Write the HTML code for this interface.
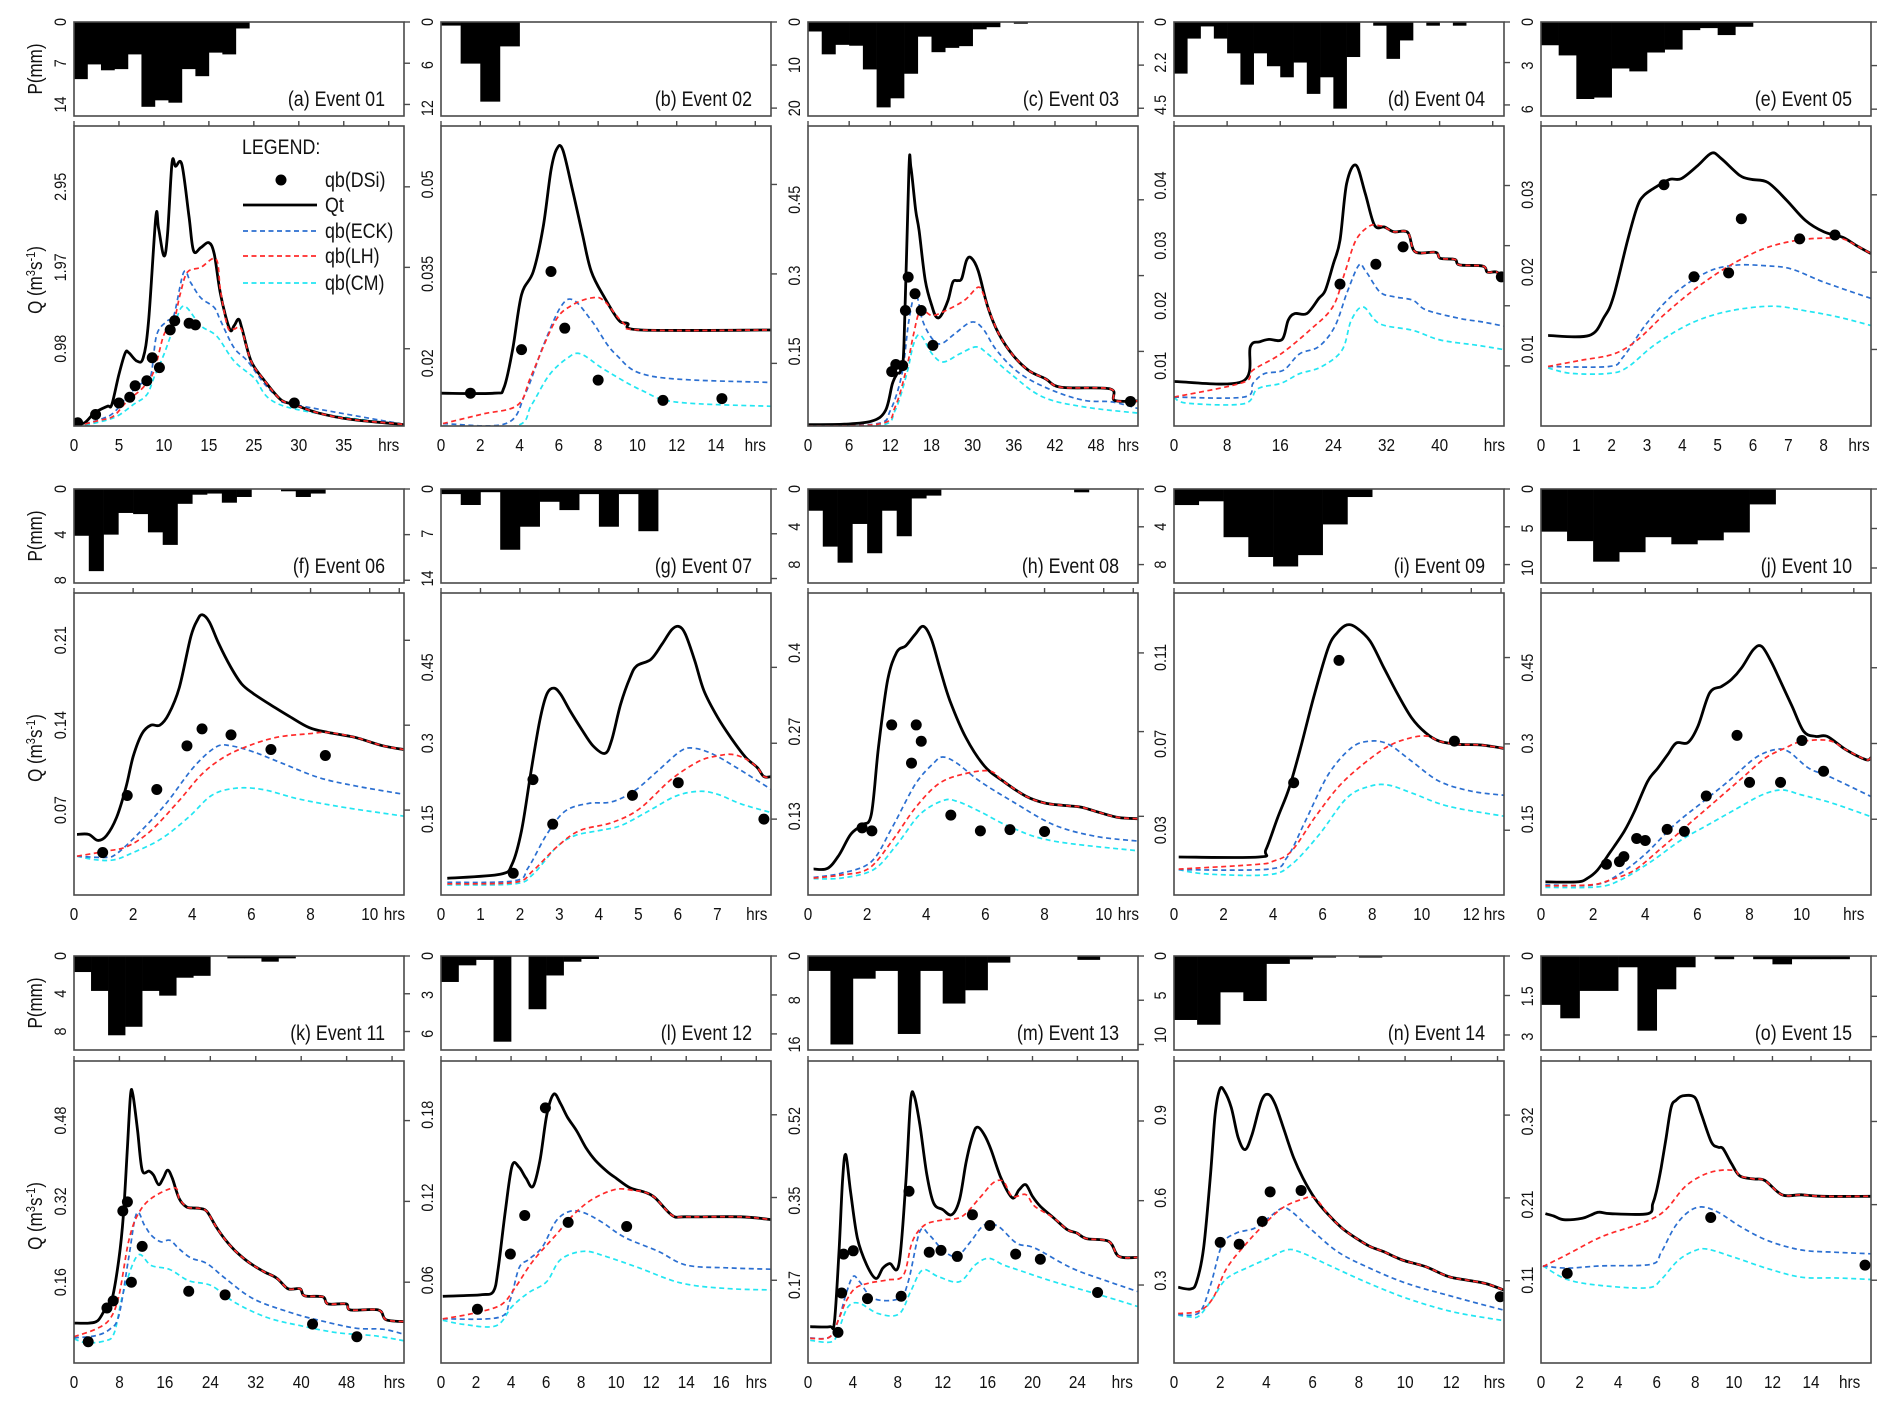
<!DOCTYPE html>
<html><head><meta charset="utf-8">
<style>
html,body{margin:0;padding:0;background:#fff;}
svg{display:block;}
text{font-family:"Liberation Sans Narrow","Liberation Sans",Arial,sans-serif;fill:#111;}
</style></head>
<body>
<svg id="fig" width="1892" height="1406" viewBox="0 0 1892 1406" xmlns="http://www.w3.org/2000/svg">
<rect x="0" y="0" width="1892" height="1406" fill="#fff"/>
</svg>
<script>
// ---------- DATA ----------
const rainA=[9.7,7.2,8.2,8.0,5.5,14.4,13.3,13.7,8.0,9.2,5.2,5.5,1.1];
const qtA=[[0.3,0.07],[1.2,0.08],[2.3,0.20],[3.7,0.28],[4.2,0.30],[5.0,0.67],[5.7,0.93],[6.1,0.93],[7.0,0.83],[7.7,0.87],[8.3,1.32],[9.1,2.58],[9.4,2.45],[10.0,2.11],[10.4,2.37],[10.9,3.24],[11.3,3.20],[12.0,3.22],[12.8,2.58],[13.3,2.17],[14.1,2.21],[15.0,2.27],[15.6,2.13],[16.3,1.64],[17.3,1.22],[17.8,1.26],[18.3,1.34],[18.7,1.22],[19.7,0.83],[21.2,0.59],[23.0,0.36],[24.5,0.30],[27.1,0.20],[30.8,0.12],[36.4,0.06],[36.7,0.05]];
const eckA=[[0.3,0.04],[2.9,0.12],[4.4,0.2],[5.9,0.4],[7.4,0.55],[8.5,0.63],[9.2,1.15],[10.4,1.32],[11.1,1.38],[12.2,1.91],[13,1.78],[14.1,1.6],[15.6,1.48],[16.3,1.32],[17.8,0.99],[19.3,0.83],[21.2,0.55],[23,0.36],[24.5,0.3],[36.7,0.06]];
const lhA=[[0.3,0.04],[2.9,0.11],[4.4,0.16],[5.9,0.34],[7.7,0.51],[8.9,0.71],[10,1.15],[11.1,1.32],[11.8,1.64],[12.6,1.91],[14.1,1.97],[15.8,2.07],[16.3,1.68],[17.1,1.24],[17.8,1.22],[18.6,1.22],[19.7,0.83],[21.2,0.59],[23,0.36],[24.5,0.30],[27.1,0.20],[30.8,0.12],[36.7,0.06]];
const cmA=[[0.3,0.03],[2.9,0.09],[4.8,0.16],[6.6,0.30],[8.1,0.42],[8.9,0.63],[10,0.91],[11.1,1.24],[12.2,1.5],[14.1,1.26],[15.9,1.13],[17.8,0.83],[20,0.63],[23.4,0.28],[36.7,0.05]];
const dsiA=[[0.4,0.08],[2.4,0.18],[5.0,0.32],[6.2,0.39],[6.8,0.53],[8.1,0.59],[8.7,0.87],[9.5,0.75],[10.7,1.21],[11.2,1.32],[12.8,1.29],[13.5,1.27],[24.5,0.32]];
const xlabA=['0','5','10','15','25','30','35','hrs'];

const rainB=[0.5,5.8,11.1,3.4];
const qtB=[[0,0.015],[2.7,0.015],[3.2,0.0159],[3.65,0.0224],[4.1,0.0315],[4.7,0.0354],[5.2,0.0428],[5.6,0.0524],[5.9,0.056],[6.2,0.0558],[6.7,0.049],[7.2,0.0417],[7.65,0.0354],[8.35,0.0309],[9.06,0.0272],[9.5,0.0267],[10.2,0.0256],[16.8,0.0256]];
const eckB=[[0.1,0.0099],[3.3,0.0099],[4.3,0.015],[5.2,0.0229],[6.1,0.0295],[6.75,0.0306],[7.7,0.027],[8.9,0.0215],[10.8,0.0178],[16.8,0.0168]];
const lhB=[[0.1,0.0099],[2.1,0.0115],[3.9,0.013],[4.6,0.018],[5.8,0.027],[6.7,0.0298],[7.7,0.031],[8.3,0.0305],[9.3,0.0267],[10.2,0.0256],[16.8,0.0256]];
const cmB=[[0.1,0.0095],[3.8,0.0095],[4.6,0.013],[5.5,0.018],[6.4,0.0208],[7.1,0.0216],[8.3,0.019],[10.2,0.0155],[12.0,0.0135],[16.8,0.0128]];
const dsiB=[[1.5,0.015],[4.1,0.0223],[5.6,0.0354],[6.3,0.0259],[8.0,0.0172],[11.3,0.0138],[14.3,0.0141]];
const xlabB=['0','2','4','6','8','10','12','14','hrs'];

const rainC=[2.2,7.5,5.3,5.5,11,19.8,17.7,12,3.4,7,6,5.6,1.7,1.2,0,0.4];
const qtC=[[0,0.005],[5.3,0.006],[9.3,0.012],[11.3,0.033],[12.3,0.086],[13,0.106],[13.5,0.112],[14,0.165],[14.7,0.508],[15.0,0.514],[15.7,0.429],[16.2,0.389],[17.1,0.29],[18.1,0.238],[18.7,0.218],[19.4,0.221],[20.4,0.251],[21.1,0.287],[21.8,0.29],[22.4,0.294],[23.1,0.33],[23.8,0.335],[24.8,0.31],[26.2,0.238],[27.8,0.185],[29.9,0.142],[32.2,0.112],[34.6,0.096],[36.9,0.079],[44,0.076],[44.7,0.053],[48.1,0.052]];
const eckC=[[0,0.002],[10,0.007],[12,0.033],[13.7,0.106],[14.7,0.211],[15.7,0.264],[16.7,0.211],[18.1,0.175],[19.4,0.165],[21.4,0.185],[23.8,0.208],[25.5,0.195],[27.5,0.152],[30.9,0.106],[35.6,0.073],[40.3,0.053],[44.3,0.05],[48.1,0.037]];
const lhC=[[0,0.002],[10.6,0.007],[12.7,0.04],[14.4,0.119],[15.4,0.185],[16.4,0.231],[18.1,0.221],[20.1,0.231],[22.8,0.251],[24.8,0.277],[25.6,0.262],[26.2,0.238],[27.8,0.185],[29.9,0.142],[32.2,0.112],[34.6,0.096],[36.9,0.079],[44,0.076],[44.7,0.053],[48.1,0.052]];
const cmC=[[0,0.002],[10.6,0.004],[12.7,0.033],[14.4,0.106],[15.4,0.165],[16.4,0.182],[18.1,0.145],[19.7,0.129],[22.1,0.145],[24.5,0.159],[26.2,0.145],[29.5,0.106],[34.2,0.06],[40.3,0.04],[48.1,0.028]];
const dsiC=[[12.2,0.11],[12.8,0.124],[13.8,0.122],[14.2,0.231],[14.6,0.297],[15.6,0.264],[16.5,0.231],[18.2,0.162],[47,0.051]];
const xlabC=['0','6','12','18','30','36','42','48','hrs'];

const rainD=[2.8,0.9,0.24,0.9,1.7,3.4,1.7,2.4,3.0,2.2,3.9,3.0,4.7,1.9,0,0.2,2.0,1.0,0,0.2,0,0.2];
const qtD=[[0,0.0074],[10.3,0.0074],[11.5,0.0132],[12.9,0.014],[14.3,0.0144],[16.3,0.0144],[17.2,0.0176],[18.2,0.0187],[20,0.0187],[21.8,0.0212],[22.8,0.0226],[24,0.027],[25,0.0309],[26,0.0403],[27.4,0.0434],[28.8,0.0387],[30.2,0.0334],[31.7,0.0331],[33.1,0.0323],[35.2,0.0322],[36.3,0.029],[39.4,0.0289],[40.1,0.0279],[42.3,0.0277],[43,0.0268],[46.5,0.0266],[47.2,0.0256],[48.6,0.0256],[49.7,0.0245]];
const eckD=[[0,0.0048],[10.5,0.0048],[11.9,0.0071],[13.6,0.0087],[16.5,0.0093],[18.9,0.012],[21.8,0.0132],[24.2,0.0165],[26,0.022],[27.8,0.0267],[28.8,0.0259],[31,0.0223],[33.1,0.0215],[36,0.0209],[38,0.0193],[43,0.0179],[46.5,0.0173],[49.7,0.0166]];
const lhD=[[0,0.0048],[10.3,0.0072],[11.9,0.0093],[16.1,0.012],[20.4,0.0159],[23.9,0.0198],[25.7,0.0254],[27.4,0.0309],[29.5,0.0333],[31.0,0.0333],[31.7,0.0331],[33.1,0.0323],[35.2,0.0322],[36.3,0.029],[39.4,0.0289],[40.1,0.0279],[42.3,0.0277],[43,0.0268],[46.5,0.0266],[47.2,0.0256],[48.6,0.0256],[49.7,0.0245]];
const cmD=[[0,0.0048],[2,0.0038],[10.5,0.0037],[12.6,0.0062],[16.1,0.0071],[18.9,0.0087],[22.1,0.0098],[25.3,0.0126],[26.7,0.0176],[28.5,0.0198],[31,0.017],[36,0.0159],[40.1,0.0143],[45.8,0.0134],[49.7,0.0127]];
const dsiD=[[25,0.0236],[30.4,0.0269],[34.5,0.0298],[49.3,0.0248]];
const xlabD=['0','8','16','24','32','40','hrs'];

const rainE=[1.6,2.3,5.3,5.2,3.2,3.4,2.1,1.9,0.56,0.42,0.9,0.33];
const qtE=[[0.2,0.0118],[1.36,0.0118],[1.79,0.0142],[2.05,0.0168],[2.45,0.0241],[2.72,0.0284],[2.91,0.0299],[3.25,0.031],[3.64,0.032],[3.97,0.0321],[4.44,0.0338],[4.83,0.0354],[5.1,0.0347],[5.63,0.0325],[5.96,0.032],[6.42,0.0316],[6.95,0.0293],[7.48,0.0267],[8.01,0.0252],[8.54,0.0245],[8.94,0.0234],[9.34,0.0224]];
const eckE=[[0.2,0.0078],[1.92,0.0078],[2.32,0.009],[2.98,0.0133],[3.77,0.0172],[4.7,0.02],[5.5,0.0209],[6.42,0.0208],[7.09,0.0204],[8.01,0.0187],[9.34,0.0166]];
const lhE=[[0.2,0.0078],[1.13,0.0086],[2.05,0.0094],[2.72,0.0112],[3.51,0.0146],[4.44,0.0181],[5.36,0.0209],[6.29,0.023],[7.22,0.0241],[8.01,0.0244],[8.54,0.0243],[8.94,0.0234],[9.34,0.0224]];
const cmE=[[0.2,0.0076],[0.86,0.0069],[1.92,0.0069],[2.45,0.0077],[3.25,0.0107],[4.3,0.0135],[5.36,0.015],[6.56,0.0156],[7.48,0.015],[8.41,0.0142],[9.34,0.0131]];
const dsiE=[[3.48,0.0313],[4.33,0.0194],[5.31,0.0199],[5.67,0.0269],[7.32,0.0243],[8.32,0.0248]];
const xlabE=['0','1','2','3','4','5','6','7','8','hrs'];

const rainF=[4.1,7.2,4.0,2.1,2.2,3.8,4.9,1.3,0.5,0.4,1.2,0.7,0,0,0.2,0.7,0.4];
const qtF=[[0.1,0.05],[0.5,0.05],[0.8,0.045],[1.1,0.049],[1.44,0.064],[1.76,0.089],[2.0,0.114],[2.3,0.133],[2.6,0.14],[2.9,0.14],[3.2,0.149],[3.56,0.171],[3.95,0.213],[4.18,0.227],[4.34,0.231],[4.58,0.225],[4.9,0.207],[5.3,0.188],[5.67,0.174],[6.07,0.166],[6.7,0.156],[7.3,0.147],[7.95,0.138],[8.6,0.134],[9.5,0.13],[10.45,0.123],[11.16,0.12]];
const eckF=[[0.1,0.032],[1.05,0.031],[1.44,0.034],[2.15,0.05],[3.1,0.075],[4.03,0.105],[4.8,0.122],[5.3,0.123],[6.07,0.118],[7.0,0.109],[8.26,0.097],[9.5,0.09],[11.16,0.083]];
const lhF=[[0.1,0.032],[1.05,0.036],[1.8,0.04],[2.6,0.053],[3.56,0.078],[4.34,0.1],[5.1,0.114],[5.9,0.123],[6.85,0.13],[7.95,0.133],[8.6,0.134],[9.5,0.13],[10.45,0.123],[11.16,0.12]];
const cmF=[[0.1,0.032],[0.74,0.029],[1.36,0.029],[2.0,0.035],[2.93,0.046],[3.87,0.064],[4.65,0.082],[5.44,0.088],[6.38,0.087],[7.63,0.079],[9.2,0.072],[11.16,0.065]];
const dsiF=[[0.97,0.035],[1.8,0.082],[2.8,0.087],[3.82,0.123],[4.33,0.137],[5.31,0.132],[6.66,0.12],[8.5,0.115]];
const xlabF=['0','2','4','6','8','10','hrs'];

const rainG=[0.8,2.5,0.5,9.5,5.9,2.0,3.3,0.8,5.9,0.8,6.6];
const qtG=[[0.16,0.033],[1.5,0.041],[1.8,0.061],[2.04,0.127],[2.27,0.239],[2.5,0.344],[2.68,0.397],[2.86,0.409],[3.03,0.397],[3.27,0.364],[3.56,0.328],[3.85,0.295],[4.15,0.28],[4.32,0.305],[4.55,0.377],[4.79,0.43],[4.96,0.453],[5.32,0.466],[5.6,0.496],[5.84,0.524],[6.02,0.531],[6.19,0.516],[6.43,0.463],[6.66,0.404],[7.01,0.351],[7.37,0.308],[7.72,0.272],[8.01,0.252],[8.18,0.234],[8.36,0.234]];
const eckG=[[0.16,0.025],[1.86,0.028],[2.21,0.054],[2.68,0.12],[3.15,0.166],[3.74,0.181],[4.32,0.184],[4.9,0.206],[5.5,0.246],[6.08,0.285],[6.43,0.29],[6.9,0.278],[7.48,0.252],[8.36,0.209]];
const lhG=[[0.16,0.022],[1.86,0.025],[2.33,0.048],[2.92,0.094],[3.5,0.127],[4.32,0.143],[5.02,0.17],[5.84,0.229],[6.55,0.265],[7.01,0.275],[7.37,0.278],[7.72,0.269],[8.01,0.252],[8.18,0.234],[8.36,0.234]];
const cmG=[[0.16,0.02],[1.86,0.022],[2.33,0.041],[2.92,0.094],[3.38,0.117],[3.97,0.127],[4.55,0.137],[5.26,0.166],[5.96,0.196],[6.55,0.205],[7.01,0.199],[7.6,0.18],[8.36,0.163]];
const dsiG=[[1.83,0.043],[2.33,0.228],[2.83,0.14],[4.85,0.197],[6.01,0.222],[8.18,0.15]];
const xlabG=['0','1','2','3','4','5','6','7','hrs'];

const rainH=[2.3,6.1,7.8,3.7,6.8,2.3,5.0,1.0,0.7,0,0,0,0,0,0,0,0,0,0.35];
const qtH=[[0.19,0.043],[0.66,0.044],[1.05,0.066],[1.44,0.1],[1.83,0.116],[2.14,0.133],[2.38,0.243],[2.69,0.354],[3.0,0.401],[3.31,0.412],[3.63,0.431],[3.9,0.444],[4.17,0.423],[4.48,0.371],[4.8,0.321],[5.34,0.26],[5.97,0.213],[6.6,0.188],[7.38,0.163],[8.0,0.152],[8.63,0.148],[9.25,0.145],[9.88,0.136],[10.5,0.128],[11.16,0.126]];
const eckH=[[0.19,0.029],[1.13,0.036],[2.14,0.055],[2.84,0.111],[3.63,0.183],[4.25,0.218],[4.56,0.228],[5.03,0.218],[5.81,0.188],[6.9,0.155],[8.31,0.116],[9.72,0.097],[11.16,0.089]];
const lhH=[[0.19,0.028],[1.13,0.033],[2.06,0.044],[2.84,0.089],[3.63,0.144],[4.4,0.183],[5.19,0.199],[6.13,0.205],[6.6,0.188],[7.38,0.163],[8.0,0.152],[8.63,0.148],[9.25,0.145],[9.88,0.136],[10.5,0.128],[11.16,0.126]];
const cmH=[[0.19,0.027],[1.13,0.028],[2.22,0.042],[3.0,0.083],[3.78,0.133],[4.56,0.156],[5.03,0.155],[5.81,0.138],[6.9,0.111],[8.31,0.089],[11.16,0.073]];
const dsiH=[[1.83,0.111],[2.16,0.106],[2.83,0.281],[3.66,0.281],[3.5,0.218],[3.83,0.254],[4.83,0.132],[5.83,0.106],[6.83,0.108],[8.0,0.105]];
const xlabH=['0','2','4','6','8','10','hrs'];

const rainI=[1.7,1.3,5.1,7.2,8.2,7.0,3.75,0.85];
const qtI=[[0.19,0.0176],[3.43,0.0176],[3.71,0.021],[4.18,0.0357],[4.65,0.0496],[5.11,0.0682],[5.67,0.093],[6.23,0.1146],[6.6,0.1216],[6.98,0.1251],[7.35,0.1239],[7.91,0.1177],[8.47,0.1053],[9.03,0.093],[9.59,0.0821],[10.15,0.0752],[10.7,0.0713],[11.46,0.0698],[12.39,0.0695],[13.32,0.0679]];
const eckI=[[0.19,0.0117],[3.81,0.012],[4.55,0.0172],[5.3,0.0342],[6.23,0.0558],[7.16,0.0682],[7.91,0.0713],[8.66,0.0698],[9.59,0.062],[10.7,0.0527],[12.0,0.0481],[13.32,0.0462]];
const lhI=[[0.19,0.012],[3.25,0.0141],[3.99,0.0156],[4.74,0.0203],[5.67,0.0357],[6.6,0.0496],[7.54,0.0597],[8.66,0.069],[9.59,0.0729],[10.24,0.0736],[10.7,0.0713],[11.46,0.0698],[12.39,0.0695],[13.32,0.0679]];
const cmI=[[0.19,0.0117],[1.38,0.0097],[3.81,0.0094],[4.74,0.0141],[5.86,0.028],[6.98,0.045],[7.91,0.0504],[8.66,0.0509],[9.59,0.0473],[11.08,0.0411],[13.32,0.0365]];
const dsiI=[[4.83,0.052],[6.66,0.1087],[11.32,0.0713]];
const xlabI=['0','2','4','6','8','10','12','hrs'];

const rainJ=[5.4,6.6,9.2,8.0,6.1,7.0,6.5,5.5,1.95];
const qtJ=[[0.17,0.026],[1.39,0.026],[1.78,0.033],[2.16,0.049],[2.67,0.086],[3.19,0.126],[3.58,0.165],[4.09,0.225],[4.48,0.251],[4.86,0.278],[5.19,0.301],[5.64,0.302],[6.02,0.334],[6.47,0.4],[6.93,0.413],[7.31,0.427],[7.7,0.45],[8.15,0.486],[8.47,0.492],[8.85,0.46],[9.24,0.417],[9.63,0.374],[10.08,0.324],[10.53,0.314],[10.98,0.314],[11.69,0.288],[12.46,0.268],[12.66,0.272]];
const eckJ=[[0.17,0.02],[2.03,0.02],[2.93,0.039],[3.96,0.079],[5.12,0.139],[6.15,0.182],[7.18,0.225],[8.21,0.271],[8.98,0.288],[9.5,0.284],[10.27,0.251],[11.04,0.235],[12.66,0.195]];
const lhJ=[[0.17,0.018],[1.9,0.02],[2.67,0.03],[3.58,0.049],[4.6,0.092],[5.64,0.139],[6.67,0.185],[7.7,0.231],[8.6,0.271],[9.37,0.291],[10.0,0.304],[11.04,0.306],[11.69,0.288],[12.46,0.268],[12.66,0.272]];
const cmJ=[[0.17,0.015],[2.16,0.016],[3.06,0.03],[4.22,0.066],[5.38,0.109],[6.41,0.139],[7.44,0.169],[8.47,0.198],[9.24,0.208],[10.01,0.198],[11.17,0.182],[12.66,0.155]];
const dsiJ=[[2.51,0.061],[3.01,0.066],[3.18,0.076],[3.67,0.112],[4.0,0.108],[4.84,0.13],[5.5,0.126],[6.34,0.196],[7.52,0.316],[8.0,0.223],[9.19,0.223],[10.01,0.306],[10.84,0.245]];
const xlabJ=['0','2','4','6','8','10','hrs'];

const rainK=[1.7,3.7,8.4,7.5,3.7,4.2,2.3,2.1,0,0.25,0.25,0.6,0.25];
const qtK=[[0,0.079],[2.6,0.079],[4.2,0.084],[5.5,0.107],[6.7,0.127],[7.9,0.206],[8.7,0.293],[9.4,0.426],[9.96,0.532],[10.4,0.529],[11.2,0.46],[12,0.382],[13.2,0.38],[14,0.372],[14.9,0.353],[15.7,0.366],[16.5,0.382],[17.3,0.366],[18.5,0.326],[19.8,0.309],[21,0.307],[22.2,0.306],[23.4,0.3],[25,0.27],[26.7,0.243],[28.3,0.223],[30,0.206],[31.6,0.193],[33.6,0.18],[35.7,0.168],[37.7,0.147],[39.8,0.147],[40.6,0.133],[43.8,0.131],[44.7,0.117],[47.9,0.117],[48.7,0.105],[53.6,0.105],[54.9,0.086],[58.1,0.082]];
const eckK=[[0,0.05],[3.8,0.054],[6.3,0.067],[7.9,0.094],[9.6,0.206],[11,0.296],[12.4,0.273],[13.6,0.253],[15.3,0.24],[16.9,0.243],[18.5,0.226],[20.6,0.208],[23.4,0.197],[26.7,0.167],[31.6,0.127],[38.1,0.1],[43,0.085],[49.6,0.069],[54.4,0.067],[58.1,0.057]];
const lhK=[[0,0.052],[3.8,0.067],[6.3,0.087],[7.9,0.133],[9.6,0.24],[11.2,0.293],[13.6,0.326],[17.7,0.347],[18.5,0.326],[19.8,0.309],[21,0.307],[22.2,0.306],[23.4,0.3],[25,0.27],[26.7,0.243],[28.3,0.223],[30,0.206],[31.6,0.193],[33.6,0.18],[35.7,0.168],[37.7,0.147],[39.8,0.147],[40.6,0.133],[43.8,0.131],[44.7,0.117],[47.9,0.117],[48.7,0.105],[53.6,0.105],[54.9,0.086],[58.1,0.082]];
const cmK=[[0,0.048],[2.2,0.04],[5.5,0.044],[7.1,0.06],[8.7,0.14],[11.2,0.213],[13.6,0.193],[16.9,0.185],[20.2,0.163],[24.2,0.153],[28.3,0.12],[34,0.09],[39.8,0.074],[46.3,0.06],[52.8,0.054],[58.1,0.044]];
const dsiK=[[2.5,0.042],[5.8,0.109],[6.9,0.123],[8.6,0.301],[9.4,0.319],[10.1,0.16],[12,0.231],[20.2,0.142],[26.6,0.135],[42,0.077],[49.8,0.052]];
const xlabK=['0','8','16','24','32','40','48','hrs'];

const rainL=[2.0,0.72,0.3,6.6,0,4.1,1.5,0.44,0.23];
const qtL=[[0.1,0.0484],[1.3,0.0489],[2.35,0.0496],[3.0,0.052],[3.27,0.069],[3.67,0.11],[4.06,0.143],[4.46,0.142],[4.85,0.134],[5.25,0.128],[5.65,0.147],[6.04,0.18],[6.44,0.195],[6.83,0.188],[7.23,0.178],[7.76,0.168],[8.28,0.156],[8.81,0.147],[9.47,0.139],[10,0.134],[10.8,0.127],[11.6,0.124],[12.2,0.12],[13.2,0.107],[14,0.106],[17.1,0.106],[18.84,0.104]];
const eckL=[[0.1,0.032],[3.27,0.033],[3.93,0.045],[4.46,0.069],[4.99,0.075],[5.78,0.084],[6.57,0.103],[7.36,0.11],[8.15,0.109],[9.2,0.102],[10.5,0.091],[12.4,0.081],[14,0.071],[16.3,0.069],[18.84,0.068]];
const lhL=[[0.1,0.032],[1.82,0.036],[3.4,0.042],[4.2,0.054],[5.25,0.074],[6.57,0.093],[7.6,0.108],[8.68,0.119],[10,0.126],[11.05,0.125],[11.6,0.124],[12.2,0.12],[13.2,0.107],[14,0.106],[17.1,0.106],[18.84,0.104]];
const cmL=[[0.1,0.031],[1.3,0.028],[3.14,0.027],[4.06,0.041],[5.0,0.051],[6.04,0.059],[6.83,0.075],[8.15,0.081],[9.47,0.077],[11.3,0.069],[13.7,0.058],[16.3,0.054],[18.84,0.053]];
const dsiL=[[2.08,0.039],[3.96,0.079],[4.78,0.107],[5.96,0.185],[7.26,0.102],[10.6,0.099]];
const xlabL=['0','2','4','6','8','10','12','14','16','hrs'];

const rainM=[2.7,16,4.1,2.7,14.1,2.7,8.6,6.2,1.2,0,0,0,0.7];
const qtM=[[0.2,0.081],[1.93,0.081],[2.35,0.091],[2.76,0.241],[3.09,0.398],[3.37,0.448],[3.79,0.37],[4.4,0.27],[5.23,0.213],[6.05,0.184],[6.67,0.206],[7.28,0.216],[8.1,0.214],[8.72,0.391],[9.14,0.563],[9.47,0.573],[9.96,0.513],[10.58,0.406],[11.19,0.345],[12.0,0.331],[12.8,0.32],[13.5,0.352],[14.1,0.434],[14.7,0.491],[15.1,0.507],[15.7,0.491],[16.3,0.459],[17.2,0.398],[18.2,0.356],[18.8,0.373],[19.4,0.384],[20.0,0.359],[20.7,0.338],[21.9,0.313],[23.1,0.288],[23.95,0.281],[24.8,0.269],[26.8,0.263],[27.7,0.231],[29.4,0.229]];
const eckM=[[0.2,0.057],[1.93,0.059],[2.76,0.099],[3.37,0.149],[4.0,0.188],[4.6,0.177],[5.84,0.141],[8.1,0.141],[8.93,0.177],[9.96,0.284],[10.8,0.277],[12,0.245],[13.25,0.231],[14.5,0.263],[15.7,0.298],[16.95,0.295],[18.6,0.259],[20.2,0.249],[23.5,0.206],[26.8,0.177],[29.4,0.156]];
const lhM=[[0.2,0.056],[1.93,0.059],[2.76,0.099],[3.37,0.134],[4.2,0.163],[5.43,0.174],[7.08,0.181],[8.5,0.191],[9.3,0.263],[10.4,0.298],[12,0.309],[13.7,0.316],[15.3,0.356],[16.5,0.388],[17.4,0.391],[18.2,0.359],[19.4,0.363],[20.2,0.338],[21.9,0.313],[23.1,0.288],[23.95,0.281],[24.8,0.269],[26.8,0.263],[27.7,0.231],[29.4,0.229]];
const cmM=[[0.2,0.052],[2.14,0.049],[2.76,0.077],[3.58,0.124],[4.6,0.131],[6.26,0.109],[8.1,0.108],[9.14,0.156],[10.2,0.202],[11.6,0.188],[13.5,0.177],[14.9,0.213],[16.1,0.227],[17.4,0.213],[19,0.2],[21.9,0.177],[26,0.149],[29.4,0.124]];
const dsiM=[[2.67,0.069],[3.0,0.153],[3.17,0.236],[4.03,0.243],[5.3,0.141],[8.3,0.146],[9.0,0.37],[10.8,0.24],[11.85,0.244],[13.3,0.231],[14.65,0.32],[16.2,0.297],[18.5,0.236],[20.7,0.225],[25.8,0.154]];
const xlabM=['0','4','8','12','16','20','24','hrs'];

const rainN=[8.1,8.7,4.6,5.7,1.0,0.43,0.2,0,0.2];
const qtN=[[0.18,0.276],[0.72,0.27],[0.98,0.296],[1.28,0.418],[1.58,0.684],[1.78,0.902],[1.98,0.993],[2.18,0.987],[2.48,0.927],[2.78,0.818],[3.08,0.775],[3.38,0.83],[3.78,0.951],[4.08,0.975],[4.38,0.939],[4.78,0.842],[5.18,0.745],[5.58,0.672],[6.08,0.6],[6.68,0.539],[7.28,0.49],[7.88,0.454],[8.48,0.424],[9.08,0.405],[9.88,0.375],[10.88,0.351],[11.88,0.315],[12.68,0.302],[13.48,0.29],[14.28,0.266]];
const eckN=[[0.18,0.178],[1.08,0.184],[1.58,0.284],[2.08,0.43],[2.68,0.472],[3.48,0.49],[4.08,0.527],[4.68,0.563],[5.08,0.551],[5.88,0.49],[7.08,0.405],[8.48,0.345],[10.08,0.29],[12.08,0.242],[14.28,0.193]];
const lhN=[[0.18,0.181],[1.08,0.19],[1.68,0.236],[2.28,0.345],[3.08,0.43],[3.88,0.502],[4.68,0.563],[5.48,0.593],[6.08,0.6],[6.68,0.539],[7.28,0.49],[7.88,0.454],[8.48,0.424],[9.08,0.405],[9.88,0.375],[10.88,0.351],[11.88,0.315],[12.68,0.302],[13.48,0.29],[14.28,0.266]];
const cmN=[[0.18,0.175],[0.68,0.169],[1.08,0.172],[1.68,0.236],[2.28,0.308],[3.28,0.351],[4.08,0.381],[4.88,0.412],[5.48,0.403],[6.68,0.357],[8.28,0.296],[10.08,0.236],[12.08,0.187],[14.28,0.155]];
const dsiN=[[2.0,0.439],[2.82,0.432],[3.82,0.515],[4.16,0.622],[5.5,0.627],[14.12,0.242]];
const xlabN=['0','2','4','6','8','10','12','hrs'];

const rainO=[1.82,2.32,1.3,1.3,0.42,2.78,1.24,0.42,0,0.12,0,0.12,0.31,0.12,0.12,0.12];
const qtO=[[0.23,0.198],[0.66,0.195],[1.18,0.19],[2.14,0.192],[2.57,0.196],[3.0,0.2],[3.62,0.198],[5.53,0.198],[5.79,0.211],[5.97,0.226],[6.23,0.259],[6.49,0.299],[6.75,0.339],[7.0,0.348],[7.36,0.354],[7.97,0.352],[8.31,0.33],[8.83,0.293],[9.18,0.286],[9.44,0.284],[9.88,0.264],[10.31,0.248],[11.0,0.244],[11.6,0.242],[12.5,0.223],[13.5,0.223],[14.6,0.221],[17.11,0.221]];
const eckO=[[0.1,0.129],[1.36,0.126],[3.1,0.129],[5.7,0.131],[6.23,0.147],[6.92,0.18],[7.62,0.2],[8.31,0.207],[9.18,0.2],[10.4,0.18],[11.8,0.162],[13.5,0.15],[15.3,0.147],[17.11,0.145]];
const lhO=[[0.1,0.128],[1.36,0.144],[3.1,0.167],[4.83,0.182],[5.9,0.193],[6.57,0.206],[7.44,0.233],[8.31,0.248],[9.18,0.255],[10.05,0.255],[10.31,0.248],[11.0,0.244],[11.6,0.242],[12.5,0.223],[13.5,0.223],[14.6,0.221],[17.11,0.221]];
const cmO=[[0.1,0.129],[1.36,0.111],[3.1,0.103],[5.53,0.1],[6.23,0.111],[7.1,0.136],[7.97,0.149],[8.66,0.151],[10.05,0.14],[11.8,0.125],[13.5,0.114],[15.3,0.113],[17.11,0.111]];
const dsiO=[[1.36,0.119],[8.8,0.193],[16.8,0.13]];
const xlabO=['0','2','4','6','8','10','12','14','hrs'];

// ---------- LAYOUT ----------
const NS='http://www.w3.org/2000/svg';
const svg=document.getElementById('fig');
const COLX=[74,441,808,1174,1541], PW=330;
const ROWY=[{pt:22,ph:94,qt:126,qh:300},{pt:489,ph:94,qt:593,qh:302},{pt:956,ph:94,qt:1061,qh:302}];
const SX=0.85;
function seq(a,b,s){const r=[];for(let v=a;v<=b+1e-9;v+=s)r.push(+v.toFixed(4));return r;}
const panels=[
 {k:'a',label:'(a) Event 01',xmax:36.7,xt:seq(0,35,5),xl:xlabA,ymin:0.04,ymax:3.69,yt:[0.98,1.97,2.95],pmax:15.96,pt:[0,7,14],bw:1.5,rain:rainA,qt:qtA,eck:eckA,lh:lhA,cm:cmA,dsi:dsiA},
 {k:'b',label:'(b) Event 02',xmax:16.8,xt:seq(0,16,2),xl:xlabB,ymin:0.0095,ymax:0.0598,yt:[0.02,0.035,0.05],pmax:13.1,pt:[0,6,12],bw:1,rain:rainB,qt:qtB,eck:eckB,lh:lhB,cm:cmB,dsi:dsiB},
 {k:'c',label:'(c) Event 03',xmax:48.1,xt:seq(0,48,6),xl:xlabC,ymin:0.0024,ymax:0.596,yt:[0.15,0.3,0.45],pmax:21.8,pt:[0,10,20],bw:2,rain:rainC,qt:qtC,eck:eckC,lh:lhC,cm:cmC,dsi:dsiC},
 {k:'d',label:'(d) Event 04',xmax:49.7,xt:seq(0,48,8),xl:xlabD,ymin:0,ymax:0.0499,yt:[0.01,0.02,0.03,0.04],pmax:5.1,pt:[0,2.2,4.5],bw:2,rain:rainD,qt:qtD,eck:eckD,lh:lhD,cm:cmD,dsi:dsiD},
 {k:'e',label:'(e) Event 05',xmax:9.34,xt:seq(0,9,1),xl:xlabE,ymin:0.0001,ymax:0.0389,yt:[0.01,0.02,0.03],pmax:6.47,pt:[0,3,6],bw:0.5,rain:rainE,qt:qtE,eck:eckE,lh:lhE,cm:cmE,dsi:dsiE},
 {k:'f',label:'(f)  Event 06',xmax:11.16,xt:[0,2,4,6,8,10,11.0],xl:xlabF,ymin:0,ymax:0.249,yt:[0.07,0.14,0.21],pmax:8.24,pt:[0,4,8],bw:0.5,rain:rainF,qt:qtF,eck:eckF,lh:lhF,cm:cmF,dsi:dsiF},
 {k:'g',label:'(g) Event 07',xmax:8.36,xt:seq(0,8,1),xl:xlabG,ymin:0,ymax:0.597,yt:[0.15,0.3,0.45],pmax:14.7,pt:[0,7,14],bw:0.5,rain:rainG,qt:qtG,eck:eckG,lh:lhG,cm:cmG,dsi:dsiG},
 {k:'h',label:'(h) Event 08',xmax:11.16,xt:[0,2,4,6,8,10,11.0],xl:xlabH,ymin:0,ymax:0.499,yt:[0.13,0.27,0.40],pmax:9.95,pt:[0,4,8],bw:0.5,rain:rainH,qt:qtH,eck:eckH,lh:lhH,cm:cmH,dsi:dsiH},
 {k:'i',label:'(i)  Event 09',xmax:13.32,xt:[0,2,4,6,8,10,12,13.2],xl:xlabI,ymin:0,ymax:0.1399,yt:[0.03,0.07,0.11],pmax:9.95,pt:[0,4,8],bw:1,rain:rainI,qt:qtI,eck:eckI,lh:lhI,cm:cmI,dsi:dsiI},
 {k:'j',label:'(j)  Event 10',xmax:12.66,xt:seq(0,12,2),xl:xlabJ,ymin:0,ymax:0.598,yt:[0.15,0.3,0.45],pmax:11.9,pt:[0,5,10],bw:1,rain:rainJ,qt:qtJ,eck:eckJ,lh:lhJ,cm:cmJ,dsi:dsiJ},
 {k:'k',label:'(k)  Event 11',xmax:58.1,xt:seq(0,56,8),xl:xlabK,ymin:0,ymax:0.598,yt:[0.16,0.32,0.48],pmax:9.96,pt:[0,4,8],bw:3,rain:rainK,qt:qtK,eck:eckK,lh:lhK,cm:cmK,dsi:dsiK},
 {k:'l',label:'(l)  Event 12',xmax:18.84,xt:seq(0,18,2),xl:xlabL,ymin:0,ymax:0.219,yt:[0.06,0.12,0.18],pmax:7.24,pt:[0,3,6],bw:1,rain:rainL,qt:qtL,eck:eckL,lh:lhL,cm:cmL,dsi:dsiL},
 {k:'m',label:'(m) Event 13',xmax:29.4,xt:seq(0,28,4),xl:xlabM,ymin:0.0036,ymax:0.648,yt:[0.17,0.35,0.52],pmax:17.0,pt:[0,8,16],bw:2,rain:rainM,qt:qtM,eck:eckM,lh:lhM,cm:cmM,dsi:dsiM},
 {k:'n',label:'(n)  Event 14',xmax:14.28,xt:seq(0,14,2),xl:xlabN,ymin:0.0018,ymax:1.096,yt:[0.3,0.6,0.9],pmax:11.9,pt:[0,5,10],bw:1,rain:rainN,qt:qtN,eck:eckN,lh:lhN,cm:cmN,dsi:dsiN},
 {k:'o',label:'(o) Event 15',xmax:17.11,xt:seq(0,16,2),xl:xlabO,ymin:0.0005,ymax:0.40,yt:[0.11,0.21,0.32],pmax:3.5,pt:[0,1.5,3],bw:1,rain:rainO,qt:qtO,eck:eckO,lh:lhO,cm:cmO,dsi:dsiO}
];

function el(tag,parent){const e=document.createElementNS(NS,tag);parent.appendChild(e);return e;}
function smooth(pts){
  if(!pts.length) return '';
  let d='M'+pts[0][0].toFixed(1)+','+pts[0][1].toFixed(1);
  for(let i=0;i<pts.length-1;i++){
    const p0=pts[Math.max(0,i-1)],p1=pts[i],p2=pts[i+1],p3=pts[Math.min(pts.length-1,i+2)];
    const c1x=p1[0]+(p2[0]-p0[0])/6,c1y=p1[1]+(p2[1]-p0[1])/6;
    const c2x=p2[0]-(p3[0]-p1[0])/6,c2y=p2[1]-(p3[1]-p1[1])/6;
    d+=' C'+c1x.toFixed(1)+','+c1y.toFixed(1)+' '+c2x.toFixed(1)+','+c2y.toFixed(1)+' '+p2[0].toFixed(1)+','+p2[1].toFixed(1);
  }
  return d;
}
const defs=el('defs',svg);
const BOX='#4a4a4a';

panels.forEach((p,idx)=>{
  const col=idx%5,row=Math.floor(idx/5);
  const L=COLX[col],R=L+PW,g0=ROWY[row];
  const xs=v=>L+v/p.xmax*PW;
  const ys=v=>g0.qt+g0.qh*(1-(v-p.ymin)/(p.ymax-p.ymin));
  const ps=v=>g0.pt+v/p.pmax*g0.ph;
  const g=el('g',svg);
  
  

  const pg=el('g',g);
  
  
  p.rain.forEach((v,i)=>{
    const x0=i*p.bw,x1=Math.min(p.xmax,(i+1)*p.bw);
    if(v<=0||x0>=p.xmax) return;
    const r=el('rect',pg);
    
    
    r.setAttribute('x',xs(x0));r.setAttribute('y',g0.pt);
    r.setAttribute('width',xs(x1)-xs(x0)+0.3);r.setAttribute('height',ps(v)-g0.pt);
    r.setAttribute('fill','#000');
  });
  const pb=el('rect',g);
  
  
  pb.setAttribute('x',L);pb.setAttribute('y',g0.pt);pb.setAttribute('width',PW);pb.setAttribute('height',g0.ph);
  pb.setAttribute('fill','none');pb.setAttribute('stroke',BOX);pb.setAttribute('stroke-width','1.6');
  p.pt.forEach(v=>{
    const t=el('text',g);
    
    
    t.setAttribute('transform','translate('+(L-8)+','+ps(v)+') rotate(-90) scale('+SX+',1)');
    t.setAttribute('text-anchor','middle');t.setAttribute('font-size','17');
    t.textContent=String(v);
    const tk=el('line',g);
    
    
    tk.setAttribute('x1',R);tk.setAttribute('x2',R+6);tk.setAttribute('y1',ps(v));tk.setAttribute('y2',ps(v));
    tk.setAttribute('stroke',BOX);tk.setAttribute('stroke-width','1.4');
  });
  const lab=el('text',g);
  
  
  lab.setAttribute('transform','translate('+(R-19)+','+(g0.pt+g0.ph-10)+') scale('+SX+',1)');
  lab.setAttribute('text-anchor','end');lab.setAttribute('font-size','21');
  lab.setAttribute('xml:space','preserve');
  lab.textContent=p.label;

  const cp=el('clipPath',defs);
  cp.setAttribute('id','clip'+p.k);
  const cr=el('rect',cp);
  cr.setAttribute('x',L);cr.setAttribute('y',g0.qt);cr.setAttribute('width',PW);cr.setAttribute('height',g0.qh);
  const qg=el('g',g);
  
  
  qg.setAttribute('clip-path','url(#clip'+p.k+')');
  const series=[['cm','#22e6f2',1.7,'5,3.5'],['eck','#2b6fd1',1.7,'5,3.5'],['qt','#000',2.8,null],['lh','#ff2a2a',1.7,'5,3.5']];
  series.forEach(s=>{
    const path=el('path',qg);
    
    
    path.setAttribute('d',smooth(p[s[0]].map(q=>[xs(q[0]),ys(q[1])])));
    path.setAttribute('fill','none');path.setAttribute('stroke',s[1]);path.setAttribute('stroke-width',s[2]);
    path.setAttribute('stroke-linejoin','round');
    if(s[3]) path.setAttribute('stroke-dasharray',s[3]);
  });
  p.dsi.forEach(q=>{
    const c=el('circle',qg);
    
    
    c.setAttribute('cx',xs(q[0]));c.setAttribute('cy',ys(q[1]));c.setAttribute('r','5.5');c.setAttribute('fill','#000');
  });
  const qb=el('rect',g);
  
  
  qb.setAttribute('x',L);qb.setAttribute('y',g0.qt);qb.setAttribute('width',PW);qb.setAttribute('height',g0.qh);
  qb.setAttribute('fill','none');qb.setAttribute('stroke',BOX);qb.setAttribute('stroke-width','1.6');
  p.yt.forEach(v=>{
    const t=el('text',g);
    
    
    t.setAttribute('transform','translate('+(L-8)+','+ys(v)+') rotate(-90) scale('+SX+',1)');
    t.setAttribute('text-anchor','middle');t.setAttribute('font-size','17');
    t.textContent=String(v);
    const tk=el('line',g);
    
    
    tk.setAttribute('x1',R);tk.setAttribute('x2',R+6);tk.setAttribute('y1',ys(v));tk.setAttribute('y2',ys(v));
    tk.setAttribute('stroke',BOX);tk.setAttribute('stroke-width','1.4');
  });
  p.xt.forEach((v,i)=>{
    const x=xs(v);
    if(x<=R-1){
      const tk=el('line',g);
      
      
      tk.setAttribute('x1',x);tk.setAttribute('x2',x);tk.setAttribute('y1',g0.qt);tk.setAttribute('y2',g0.qt-5);
      tk.setAttribute('stroke',BOX);tk.setAttribute('stroke-width','1.4');
    }
    const t=el('text',g);
    
    
    let ax='middle',tx=x;
    if(x>R-12){ax='end';tx=R+1;}
    t.setAttribute('transform','translate('+tx+','+(g0.qt+g0.qh+25)+') scale('+SX+',1)');
    t.setAttribute('text-anchor',ax);t.setAttribute('font-size','18');
    t.textContent=p.xl[i];
  });
  if(col===0){
    const pt=el('text',g);
    
    
    pt.setAttribute('transform','translate(42,'+(g0.pt+g0.ph/2)+') rotate(-90) scale('+SX+',1)');
    pt.setAttribute('text-anchor','middle');pt.setAttribute('font-size','20');
    pt.textContent='P(mm)';
    const qt=el('text',g);
    
    
    qt.setAttribute('transform','translate(42,'+(g0.qt+g0.qh/2+4)+') rotate(-90) scale('+SX+',1)');
    qt.setAttribute('text-anchor','middle');qt.setAttribute('font-size','20');
    qt.innerHTML='Q (m<tspan dy="-7" font-size="13">3</tspan><tspan dy="7">s</tspan><tspan dy="-7" font-size="13">-1</tspan><tspan dy="7">)</tspan>';
  }
});

const lg=el('g',svg);


const lt=el('text',lg);


lt.setAttribute('transform','translate(242,154) scale('+SX+',1)');lt.setAttribute('font-size','21');
lt.textContent='LEGEND:';
const legItems=[['qb(DSi)','dot','#000'],['Qt','solid','#000'],['qb(ECK)','dash','#2b6fd1'],['qb(LH)','dash','#ff2a2a'],['qb(CM)','dash','#22e6f2']];
const legY=[180,205,231,256,283];
legItems.forEach((it,i)=>{
  const y=legY[i];
  const e=el('g',lg);
  
  
  if(it[1]==='dot'){
    const c=el('circle',e);
    
    
    c.setAttribute('cx',281);c.setAttribute('cy',y);c.setAttribute('r','5.5');c.setAttribute('fill','#000');
  } else {
    const l=el('line',e);
    
    
    l.setAttribute('x1',243);l.setAttribute('x2',317);l.setAttribute('y1',y);l.setAttribute('y2',y);
    l.setAttribute('stroke',it[2]);l.setAttribute('stroke-width',it[1]==='solid'?'2.8':'1.7');
    if(it[1]==='dash') l.setAttribute('stroke-dasharray','5,3.5');
  }
  const t=el('text',e);
  
  
  t.setAttribute('transform','translate(325,'+(y+7)+') scale('+SX+',1)');t.setAttribute('font-size','21');
  t.textContent=it[0];
});
</script>
</body></html>
